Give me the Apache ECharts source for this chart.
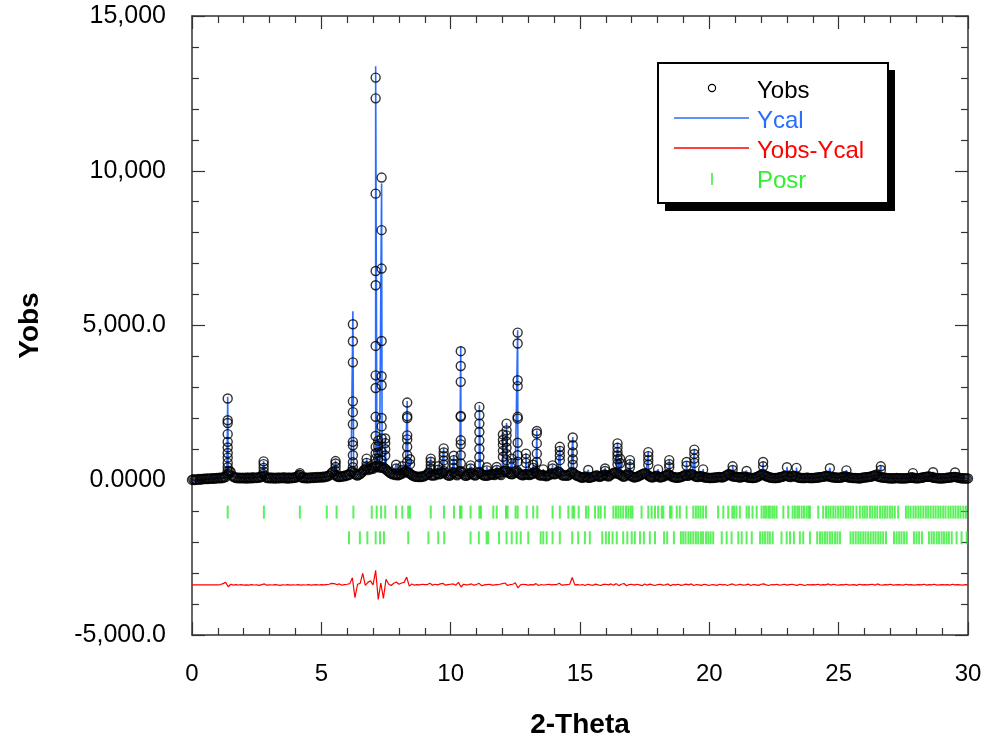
<!DOCTYPE html>
<html>
<head>
<meta charset="utf-8">
<script src="https://cdn.jsdelivr.net/npm/echarts/dist/echarts.min.js"></script>
<style>
html,body{margin:0;padding:0;background:#fff;}
#chart{width:982px;height:738px;}
</style>
</head>
<body>
<div id="chart"></div>
<script>
// ---------------- DATA ----------------
// observed profile grid (2-Theta start and step)
const obsStart = 0.0;
const obsStep = 0.05;

// Yobs background points on the grid (0.00 .. 30.00), one row per degree
const bgObs = [
  10, 30, 5, 25, 20, 40, 15, 45, 30, 50, 35, 60, 40, 55, 45, 70, 50, 65, 55, 75,
  60, 85, 65, 90, 70, 110, 100, 180, 210, 300, 260, 150, 110, 95, 70, 90, 60, 85, 65, 80,
  60, 85, 55, 90, 65, 80, 60, 95, 70, 85, 75, 100, 80, 110, 120, 200, 140, 100, 70, 90,
  65, 90, 60, 85, 55, 80, 60, 90, 65, 85, 70, 95, 60, 85, 55, 90, 65, 80, 70, 95,
  80, 110, 140, 180, 110, 90, 70, 95, 60, 85, 65, 90, 70, 100, 75, 95, 80, 105, 85, 110,
  90, 115, 95, 120, 110, 140, 150, 190, 240, 280, 200, 160, 130, 110, 105, 130, 115, 140, 125, 160,
  150, 190, 180, 260, 300, 240, 200, 170, 150, 180, 200, 240, 280, 330, 350, 390, 330, 380, 350, 400,
  370, 420, 450, 480, 430, 410, 440, 400, 420, 380, 350, 310, 280, 240, 220, 190, 200, 170, 190, 160,
  170, 210, 200, 240, 260, 300, 280, 250, 230, 200, 170, 140, 130, 110, 120, 100, 115, 105, 130, 120,
  140, 170, 190, 250, 230, 160, 150, 170, 160, 210, 230, 190, 200, 260, 240, 290, 230, 180, 160, 140,
  170, 200, 260, 230, 190, 160, 210, 280, 300, 240, 190, 150, 140, 170, 190, 230, 250, 200, 170, 150,
  180, 230, 270, 240, 200, 170, 150, 140, 160, 150, 180, 200, 190, 180, 170, 210, 240, 220, 190, 170,
  260, 300, 320, 290, 260, 240, 210, 190, 200, 250, 280, 310, 260, 220, 190, 170, 160, 180, 200, 190,
  180, 170, 190, 200, 230, 280, 250, 220, 180, 160, 150, 170, 160, 140, 130, 150, 170, 190, 230, 210,
  190, 200, 240, 290, 260, 220, 170, 150, 150, 170, 140, 160, 190, 240, 270, 230, 190, 160, 140, 130,
  110, 90, 80, 100, 120, 110, 90, 80, 85, 100, 110, 130, 140, 160, 130, 110, 120, 140, 160, 190,
  170, 140, 120, 150, 180, 210, 230, 260, 240, 210, 200, 180, 160, 130, 110, 140, 180, 220, 170, 150,
  130, 110, 90, 100, 110, 130, 150, 170, 190, 210, 230, 200, 180, 150, 120, 100, 90, 110, 130, 150,
  130, 110, 90, 100, 110, 130, 150, 170, 200, 180, 150, 120, 100, 95, 90, 80, 85, 95, 100, 120,
  140, 170, 160, 140, 150, 180, 200, 190, 160, 130, 110, 100, 120, 140, 130, 110, 95, 90, 85, 80,
  75, 70, 80, 75, 90, 85, 100, 95, 110, 100, 90, 110, 130, 150, 180, 200, 170, 150, 130, 120,
  120, 110, 100, 95, 90, 100, 110, 120, 110, 100, 90, 85, 80, 75, 70, 80, 90, 110, 130, 150,
  180, 200, 170, 160, 130, 120, 100, 90, 80, 75, 70, 75, 70, 80, 90, 100, 110, 120, 140, 150,
  140, 130, 110, 100, 140, 150, 130, 120, 100, 90, 80, 75, 70, 75, 70, 80, 80, 75, 70, 75,
  70, 75, 80, 85, 90, 95, 100, 110, 110, 120, 140, 150, 130, 120, 100, 105, 90, 95, 80, 85,
  80, 85, 90, 100, 120, 130, 110, 105, 90, 85, 80, 75, 70, 75, 70, 65, 60, 65, 80, 85,
  90, 95, 100, 105, 110, 120, 130, 150, 160, 180, 130, 120, 100, 95, 90, 85, 80, 75, 70, 65,
  60, 65, 60, 65, 70, 75, 70, 65, 60, 65, 60, 65, 60, 70, 75, 80, 90, 95, 70, 75,
  60, 65, 70, 75, 80, 90, 100, 110, 110, 120, 120, 110, 100, 90, 80, 75, 70, 65, 60, 65,
  60, 65, 70, 75, 80, 85, 90, 95, 100, 110, 110, 100, 90, 85, 70, 65, 60, 65, 60, 55,
  60
];

// difference grid (2-Theta start and step) and Yobs - Ycal values (0.0 .. 30.0)
const diffStart = 0.0;
const diffStep = 0.1;
const diffRaw = [
  0, 0, 0, 0, 0, 0, 0, 0, 0, 0, 0,
  10, 40, 80, -60, 20, -10, 5, -5, 10, -10,
  0, -10, 5, -5, 0, -15, 10, 30, -10, 0,
  -5, 5, 0, -15, 0, -5, 10, -10, 0, -5,
  10, -10, 0, -5, 5, -10, 0, 10, -5, 5,
  0, 10, 20, 50, 40, 10, 30, -10, 10, 20,
  40, 230, -410, 20, 50, 370, -20, 80, 130, 0,
  470, -470, 60, -440, 180, 30, -20, 50, 90, 20,
  60, 80, 250, -40, 30, -10, 10, 0, 20, 5,
  10, 50, -10, 20, 0, 30, 50, -10, 10, 20,
  30, -10, 80, -70, 20, 0, 10, 30, -10, 10,
  50, -30, 0, 10, 20, -10, 0, 10, 20, 40,
  60, -20, 10, 20, 70, -100, 0, 20, 10, -10,
  10, 0, 40, -20, 10, -5, 5, 20, 0, 10,
  10, 50, -10, 0, 10, 20, 240, 0, 10, -5,
  10, -20, 20, 0, -15, 25, 0, -20, 15, 20,
  0, 30, -10, 40, -25, 20, 45, -30, 10, 20,
  -10, 20, 0, -25, 30, -10, 25, 0, -20, 10,
  20, -10, 0, 30, -25, 10, 0, 20, -15, 0,
  25, 0, 30, -20, 10, 0, -15, 20, 0, -20,
  10, 0, -15, 20, 0, 10, -20, 10, 30, -10,
  0, 20, -10, 0, 25, -20, 10, 0, -15, 20,
  30, 0, -20, 10, 0, 20, -10, 0, 20, -10,
  10, 20, 0, -15, 20, 0, -20, 10, 0, 10,
  0, 20, -10, 10, 0, 30, -10, 20, 0, -10,
  10, 0, 20, -10, 0, 10, -15, 20, 0, 10,
  0, 10, 20, -10, 30, 0, -10, 10, 0, 20,
  -10, 0, 10, 0, -10, 20, 0, 10, -10, 0,
  10, 0, 20, -10, 10, 0, 20, -10, 0, 10,
  0, 10, -10, 20, 0, 10, 0, -10, 10, 0
];

// Bragg peaks: position, calculated apex, observed points across the peak
const peakTheta = [1.38, 2.77, 4.17, 5.55, 6.22, 6.75, 7.10, 7.20, 7.33, 7.47, 7.89, 8.13, 8.32, 8.43, 9.23, 9.52, 9.73, 10.12, 10.39, 10.77, 11.11, 11.40, 11.78, 12.02, 12.16, 12.36, 12.59, 12.91, 13.19, 13.33, 13.58, 13.94, 14.22, 14.72, 15.32, 15.97, 16.45, 16.55, 16.93, 17.64, 18.02, 18.45, 19.12, 19.42, 19.76, 20.90, 21.44, 22.08, 23.00, 23.37, 24.66, 25.30, 26.63, 27.87, 28.65, 29.50];
const peakCalc = [2700, 620, 240, 640, 5460, 720, 13380, 1300, 9590, 1370, 510, 460, 2560, 700, 720, 460, 1050, 810, 4330, 500, 2420, 430, 450, 1500, 1850, 710, 4850, 880, 510, 1610, 360, 490, 1100, 1400, 340, 400, 1210, 710, 670, 930, 360, 670, 600, 1010, 360, 460, 310, 600, 430, 410, 400, 330, 460, 240, 270, 260];
const peakObs = [
  [2640, 1940, 1850, 1490, 1240, 1060, 880, 730, 560, 420, 300],
  [610, 520, 400, 280],
  [230, 170],
  [620, 540, 430, 300],
  [5040, 4490, 3810, 2550, 2200, 1810, 1240, 1130, 810, 580, 420],
  [700, 560, 450],
  [13010, 12340, 9260, 6760, 6300, 4340, 3390, 2980, 2050, 1430, 1080, 870, 700, 550],
  [1280, 1100, 900, 700],
  [9780, 8080, 6840, 4500, 3360, 3070, 2010, 1740, 1350, 910, 650],
  [1350, 1200, 1000, 800],
  [500, 380],
  [450, 330],
  [2510, 2070, 2010, 1450, 1320, 1080, 810, 600],
  [680, 520],
  [700, 600, 480, 370],
  [450, 340],
  [1030, 900, 780, 640, 500],
  [790, 650, 520, 400],
  [4170, 3690, 3180, 2080, 2050, 1290, 1160, 810, 540],
  [480, 380],
  [2370, 2100, 1830, 1560, 1290, 1020, 750, 520],
  [420, 320],
  [430, 330],
  [1480, 1300, 1150, 950, 760],
  [1830, 1610, 1450, 1250, 1050, 850, 650],
  [700, 550],
  [4770, 4420, 3230, 3040, 2050, 1990, 1210, 810, 600],
  [860, 700, 560],
  [500, 400],
  [1590, 1510, 1190, 860, 590],
  [350],
  [480, 380],
  [1080, 950, 800, 650],
  [1380, 1130, 900, 680, 500],
  [330],
  [380, 300],
  [1190, 1050, 910, 800, 680, 520],
  [700, 550],
  [650, 520, 420],
  [910, 780, 650, 500],
  [350],
  [650, 520, 420],
  [590, 470],
  [990, 850, 700, 560],
  [350],
  [450, 330],
  [300],
  [590, 450],
  [420],
  [400],
  [390],
  [320],
  [450, 330],
  [230],
  [260],
  [250]
];

// Reflection positions (two phases)
const posrPhase1 = [1.38, 2.78, 4.17, 5.21, 5.59, 6.24, 6.95, 7.14, 7.31, 7.47, 7.89, 8.13, 8.36, 8.43, 9.23, 9.74, 10.13, 10.36, 10.42, 10.77, 11.11, 11.17, 11.65, 11.78, 12.14, 12.20, 12.51, 12.59, 12.94, 13.19, 13.35, 13.94, 14.22, 14.55, 14.71, 14.77, 14.95, 15.23, 15.32, 15.58, 15.71, 15.80, 15.96, 16.29, 16.39, 16.48, 16.57, 16.67, 16.78, 16.87, 16.96, 17.03, 17.38, 17.64, 17.77, 17.90, 18.02, 18.16, 18.22, 18.48, 18.54, 18.74, 18.86, 19.12, 19.38, 19.48, 19.57, 19.66, 19.76, 19.87, 20.34, 20.54, 20.73, 20.89, 20.96, 21.05, 21.18, 21.44, 21.53, 21.67, 21.83, 22.02, 22.11, 22.19, 22.28, 22.34, 22.43, 22.51, 22.60, 22.86, 23.05, 23.22, 23.31, 23.40, 23.47, 23.57, 23.66, 23.76, 23.84, 23.89, 24.21, 24.40, 24.51, 24.60, 24.69, 24.79, 24.88, 24.98, 25.08, 25.18, 25.28, 25.37, 25.46, 25.56, 25.69, 25.82, 25.93, 26.01, 26.10, 26.21, 26.30, 26.40, 26.49, 26.60, 26.70, 26.79, 26.88, 26.98, 27.07, 27.17, 27.30, 27.60, 27.69, 27.78, 27.89, 27.98, 28.08, 28.17, 28.27, 28.37, 28.46, 28.56, 28.66, 28.75, 28.85, 28.94, 29.04, 29.13, 29.24, 29.33, 29.43, 29.52, 29.62, 29.71, 29.82, 29.92];
const posrPhase2 = [6.07, 6.49, 6.78, 7.10, 7.27, 7.42, 8.36, 9.14, 9.52, 9.75, 10.77, 11.09, 11.39, 11.45, 11.87, 12.16, 12.36, 12.55, 12.71, 13.00, 13.48, 13.58, 13.71, 13.94, 14.22, 14.70, 14.93, 15.19, 15.38, 15.86, 16.00, 16.12, 16.26, 16.42, 16.67, 16.83, 17.00, 17.12, 17.32, 17.47, 17.70, 17.90, 18.25, 18.37, 18.63, 18.90, 18.99, 19.08, 19.19, 19.28, 19.38, 19.48, 19.57, 19.68, 19.76, 19.87, 19.96, 20.05, 20.15, 20.48, 20.67, 20.86, 21.12, 21.25, 21.44, 21.64, 21.96, 22.06, 22.15, 22.25, 22.34, 22.45, 22.79, 22.99, 23.12, 23.27, 23.50, 23.63, 23.89, 24.17, 24.28, 24.37, 24.47, 24.56, 24.66, 24.75, 24.86, 24.95, 25.05, 25.46, 25.56, 25.66, 25.76, 25.85, 25.95, 26.04, 26.14, 26.24, 26.34, 26.43, 26.53, 26.62, 26.72, 26.83, 27.14, 27.24, 27.34, 27.43, 27.53, 27.63, 27.91, 28.01, 28.11, 28.22, 28.49, 28.59, 28.68, 28.79, 28.88, 28.98, 29.07, 29.17, 29.26, 29.37, 29.56, 29.75, 29.95];

// axis tick labels
const yTickValues = [-5000, 0, 5000, 10000, 15000];
const yTickText = ['-5,000.0', '0.0000', '5,000.0', '10,000', '15,000'];
const legendNames = ['Yobs', 'Ycal', 'Yobs-Ycal', 'Posr'];

// ---------------- BUILD ----------------
const FONT = '"Liberation Sans", Arial, Helvetica, sans-serif';
const C_OBS = '#000000', C_CAL = '#2b6cff', C_DIFF = '#ff0000', C_POSR = '#33ee33';
const DIFF_OFFSET = -3380;   // vertical placement of the difference curve
const POSR_ROW1 = -1030;     // vertical placement of reflection rows
const POSR_ROW2 = -1860;

const obsGrid = bgObs.map((v, i) => +(obsStart + i * obsStep).toFixed(2));
const diffGrid = diffRaw.map((v, i) => +(diffStart + i * diffStep).toFixed(2));

const obsData = obsGrid.map((t, i) => [t, bgObs[i]]);
peakTheta.forEach((t, k) => peakObs[k].forEach(v => obsData.push([t, v])));

const calData = obsGrid.map((t, i) => [t, bgObs[i]]);
peakTheta.forEach((t, k) => calData.push([t, peakCalc[k]]));
calData.sort((a, b) => a[0] - b[0]);

const diffData = diffGrid.map((t, i) => [t, diffRaw[i] + DIFF_OFFSET]);
const posr1Data = posrPhase1.map(t => [t, POSR_ROW1]);
const posr2Data = posrPhase2.map(t => [t, POSR_ROW2]);

const axisCol = '#333';
function xAx(pos, showLabel) {
  return {
    type: 'value', position: pos, min: 0, max: 30, interval: 5,
    axisLine: { show: true, onZero: false, lineStyle: { color: axisCol, width: 1.5 } },
    axisTick: { show: true, inside: true, length: 13, lineStyle: { color: axisCol, width: 1.2 } },
    minorTick: { show: true, splitNumber: 5, length: 7, lineStyle: { color: axisCol, width: 1.2 } },
    splitLine: { show: false }, minorSplitLine: { show: false },
    axisLabel: { show: showLabel, fontSize: 24, color: '#000', fontFamily: FONT, margin: 27 },
    name: showLabel ? '2-Theta' : '', nameLocation: 'middle', nameGap: 76,
    nameTextStyle: { fontSize: 28, fontWeight: 'bold', color: '#000', fontFamily: FONT }
  };
}
function yAx(pos, showLabel) {
  return {
    type: 'value', position: pos, min: -5000, max: 15000, interval: 5000,
    axisLine: { show: true, onZero: false, lineStyle: { color: axisCol, width: 1.5 } },
    axisTick: { show: true, inside: true, length: 13, lineStyle: { color: axisCol, width: 1.2 } },
    minorTick: { show: true, splitNumber: 5, length: 7, lineStyle: { color: axisCol, width: 1.2 } },
    splitLine: { show: false }, minorSplitLine: { show: false },
    axisLabel: {
      show: showLabel, fontSize: 25, color: '#000', fontFamily: FONT, margin: 26,
      formatter: v => { const i = yTickValues.indexOf(v); return i >= 0 ? yTickText[i] : ''; }
    },
    name: showLabel ? 'Yobs' : '', nameLocation: 'middle', nameGap: 148, nameRotate: 90,
    nameTextStyle: { fontSize: 28, fontWeight: 'bold', color: '#000', fontFamily: FONT }
  };
}

const LX = 658, LY = 63, LW = 230, LH = 140;
const legendGraphic = [
  { type: 'rect', z: 100, shape: { x: LX + 7, y: LY + 7, width: LW, height: LH + 1 }, style: { fill: '#000' } },
  { type: 'rect', z: 101, shape: { x: LX, y: LY, width: LW, height: LH }, style: { fill: '#fff', stroke: '#000', lineWidth: 2 } },
  { type: 'circle', z: 102, shape: { cx: 712, cy: 88, r: 3.6 }, style: { fill: 'none', stroke: C_OBS, lineWidth: 1.2 } },
  { type: 'line', z: 102, shape: { x1: 674, y1: 118, x2: 749, y2: 118 }, style: { stroke: C_CAL, lineWidth: 1.5 } },
  { type: 'line', z: 102, shape: { x1: 674, y1: 148, x2: 749, y2: 148 }, style: { stroke: C_DIFF, lineWidth: 1.5 } },
  { type: 'line', z: 102, shape: { x1: 712, y1: 173, x2: 712, y2: 185 }, style: { stroke: C_POSR, lineWidth: 1.5 } }
];
const legendColors = [C_OBS, C_CAL, C_DIFF, C_POSR];
const legendYs = [91, 121, 151, 181];
legendNames.forEach((n, i) => legendGraphic.push({
  type: 'text', z: 102, x: 757, y: legendYs[i],
  style: { text: n, fill: legendColors[i], fontSize: 24, fontFamily: FONT, verticalAlign: 'middle', align: 'left' }
}));

const chart = echarts.init(document.getElementById('chart'), null, { renderer: 'canvas' });
chart.setOption({
  animation: false,
  backgroundColor: '#fff',
  grid: { left: 192, top: 16, width: 776, height: 619, containLabel: false, outerBoundsMode: 'none' },
  xAxis: [xAx('bottom', true), xAx('top', false)],
  yAxis: [yAx('left', true), yAx('right', false)],
  graphic: legendGraphic,
  series: [
    {
      name: 'Posr', type: 'scatter', data: posr1Data, symbol: 'rect', symbolSize: [2, 13],
      itemStyle: { color: C_POSR }, silent: true, z: 2
    },
    {
      name: 'Posr2', type: 'scatter', data: posr2Data, symbol: 'rect', symbolSize: [2, 13],
      itemStyle: { color: C_POSR }, silent: true, z: 2
    },
    {
      name: 'Yobs-Ycal', type: 'line', data: diffData, showSymbol: false, symbol: 'none',
      lineStyle: { color: C_DIFF, width: 1.2 }, silent: true, z: 3
    },
    {
      name: 'Ycal', type: 'line', data: calData, showSymbol: false, symbol: 'none',
      lineStyle: { color: C_CAL, width: 1.6 }, silent: true, z: 4
    },
    {
      name: 'Yobs', type: 'scatter', data: obsData, symbol: 'circle', symbolSize: 9,
      itemStyle: { color: 'rgba(0,0,0,0)', borderColor: C_OBS, borderWidth: 1.4 }, silent: true, z: 5
    }
  ]
});
</script>
</body>
</html>
